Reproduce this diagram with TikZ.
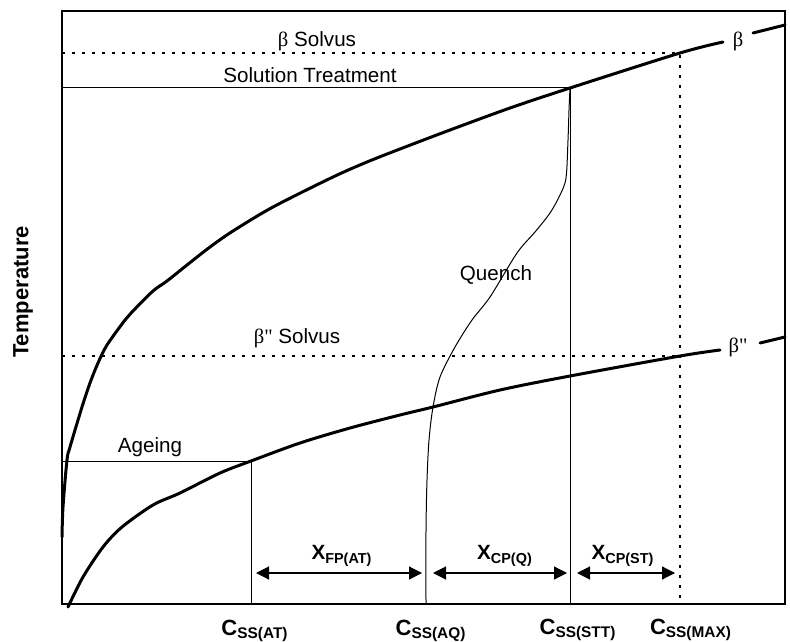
\documentclass[tikz,border=0pt]{standalone}
\usepackage{fontspec}
\setmainfont{Liberation Sans}
\font\grk="Liberation Serif" at 10.3pt
\usetikzlibrary{arrows.meta}

\begin{document}
\begin{tikzpicture}[x=0.5pt,y=-0.5pt,
  frame/.style={line width=0.8pt},
  phase/.style={line width=1.5pt,line join=round,line cap=round},
  thinline/.style={line width=0.5pt},
  solvus/.style={line width=1pt,dash pattern=on 1.6pt off 3.4pt},
  gap/.style={{Triangle[length=6.5pt,width=6.5pt]}-{Triangle[length=6.5pt,width=6.5pt]},line width=0.6pt},
  lbl/.style={font=\fontsize{10.3}{12}\selectfont,inner sep=0pt},
  xlab/.style={font=\fontsize{10.3}{12}\bfseries\selectfont,inner sep=0pt},
  conc/.style={font=\fontsize{11}{13}\bfseries\selectfont,inner sep=0pt}]
\useasboundingbox (0,0) rectangle (790,641);
\coordinate (o) at (62,604);
\coordinate (tr) at (785,11);
\draw[frame] (o) rectangle (tr);
% points on the axes and on the curves
\coordinate (LB) at (62,53);
\coordinate (LS) at (62,88);
\coordinate (LBB) at (62,356);
\coordinate (LA) at (62,461);
\coordinate (BS) at (680,53);
\coordinate (BB) at (680,356);
\coordinate (ST) at (570,88);
\coordinate (AG) at (251,461);
\foreach \n/\x in {AT/251,AQ/426,STT/570,MAX/680}
  {\coordinate (\n) at (\x,604);}
% solvus lines
\draw[solvus] (LB) -- (BS) -- (MAX);
\draw[solvus] (LBB) -- (BB);
% heat treatment
\draw[thinline] (LS) -- (ST) -- (STT);
\draw[thinline] (LA) -- (AG) -- (AT);
\draw[thinline] plot[smooth] coordinates {(ST) (569,110) (568,140) (566,178) (560,195)
  (550,213) (535,232) (517,253) (490,297) (472,320) (455,347) (440,377) (433,407)
  (429,440) (427,480) (426,530) (AQ)};
% phase boundaries
\draw[phase] plot[smooth] coordinates {(62,537) (63,507) (67,460) (70,447) (82,407)
  (90,383) (98,363) (107,345) (125,320) (132,312) (153,291) (167,281) (187,265)
  (210,247) (233,231) (273,207) (333,177) (367,162) (400,149) (450,130) (510,108)
  (ST) (BS) (723,42)};
\draw[phase] (753,33) -- (785,25);
\draw[phase] plot[smooth] coordinates {(68,607) (83,577) (103,547) (122,527) (153,505)
  (180,493) (220,473) (AG) (300,443) (350,428) (400,415) (433,407) (500,390)
  (570,376) (BB) (720,350)};
\draw[phase] (760,343) -- (785,337);
% labels
\node[lbl] (bsol) at (317,41) {{\grk β} Solvus};
\node[lbl] (stlab) at (310,75) {Solution Treatment};
\node[lbl] (qlab) at (496,275) {Quench};
\node[lbl] (bbsol) at (297,338) {{\grk β"} Solvus};
\node[lbl] (aglab) at (150,447) {Ageing};
\node[lbl] (beta) at (738,41) {\grk β};
\node[lbl] (bbeta) at (738,347) {\grk β"};
\node[conc,rotate=90] (ylab) at (23,292) {Temperature};
% concentration gaps
\foreach \n/\l/\r in {fp/256/422,cq/433/567,cs/577/675}
  {\coordinate (\n-l) at (\l,573);
   \coordinate (\n-r) at (\r,573);
   \draw[gap] (\n-l) -- (\n-r);}
\node[xlab] (xfp) at (342,556) {X\textsubscript{FP(AT)}};
\node[xlab] (xcq) at (505,556) {X\textsubscript{CP(Q)}};
\node[xlab] (xcs) at (623,556) {X\textsubscript{CP(ST)}};
\node[conc] (cat) at (255,631) {C\textsubscript{SS(AT)}};
\node[conc] (caq) at (431,631) {C\textsubscript{SS(AQ)}};
\node[conc] (cst) at (578,630) {C\textsubscript{SS(STT)}};
\node[conc] (cmx) at (691,630) {C\textsubscript{SS(MAX)}};
\end{tikzpicture}
\end{document}
